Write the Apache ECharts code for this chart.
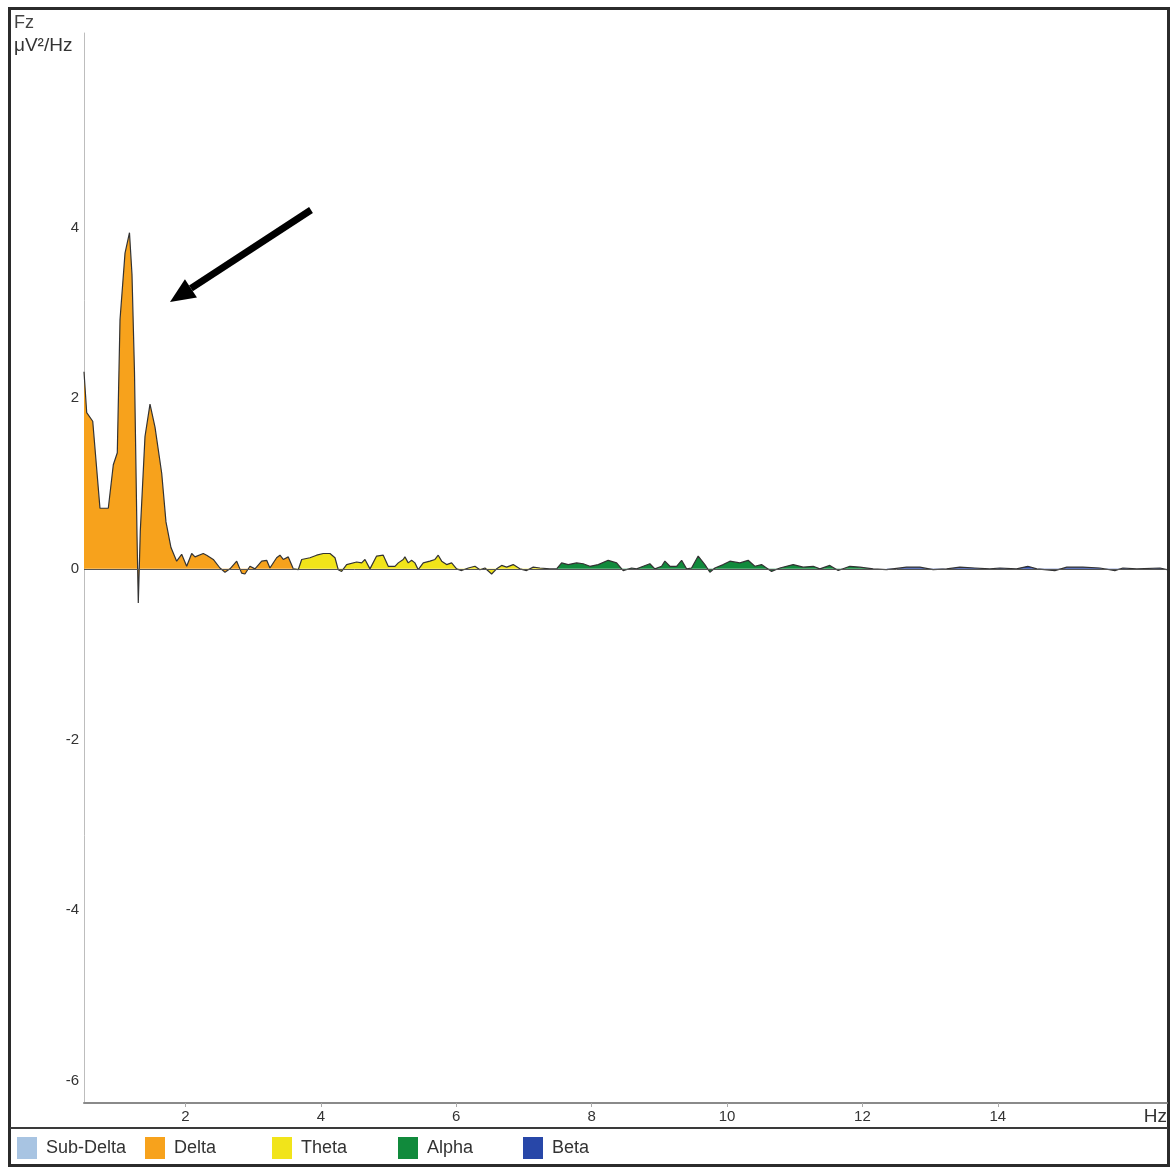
<!DOCTYPE html>
<html>
<head>
<meta charset="utf-8">
<title>Fz power spectrum</title>
<script src="https://cdn.jsdelivr.net/npm/echarts@6/dist/echarts.min.js"></script>
<style>
  html, body { margin: 0; padding: 0; background: #fff; }
  #chart { width: 1171px; height: 1169px; }
</style>
</head>
<body>
<div id="chart"></div>
<script>
// frequency (Hz) and power (µV²/Hz)
const freqHz = [
  0.500, 0.540, 0.629, 0.736, 0.859, 0.933, 0.992, 1.032, 1.106, 1.172,
  1.209, 1.246, 1.283, 1.302, 1.332, 1.401, 1.475, 1.549, 1.648, 1.711,
  1.785, 1.869, 1.943, 2.017, 2.091, 2.140, 2.262, 2.312, 2.410, 2.509,
  2.583, 2.657, 2.756, 2.829, 2.878, 2.952, 3.026, 3.125, 3.199, 3.247,
  3.346, 3.395, 3.444, 3.518, 3.592, 3.665, 3.716, 3.838, 3.937, 4.035,
  4.134, 4.208, 4.256, 4.306, 4.380, 4.528, 4.602, 4.651, 4.725, 4.823,
  4.921, 4.995, 5.094, 5.143, 5.216, 5.241, 5.290, 5.340, 5.389, 5.438,
  5.512, 5.611, 5.685, 5.733, 5.784, 5.857, 5.931, 6.005, 6.079, 6.177,
  6.276, 6.349, 6.423, 6.522, 6.596, 6.670, 6.744, 6.841, 6.940, 7.039,
  7.137, 7.236, 7.383, 7.482, 7.556, 7.654, 7.778, 7.875, 7.974, 8.097,
  8.244, 8.369, 8.466, 8.590, 8.664, 8.762, 8.860, 8.934, 9.033, 9.082,
  9.156, 9.255, 9.329, 9.403, 9.476, 9.574, 9.673, 9.747, 9.821, 9.943,
  10.042, 10.190, 10.312, 10.411, 10.510, 10.584, 10.658, 10.781, 10.977, 11.125,
  11.273, 11.372, 11.519, 11.642, 11.815, 11.962, 12.159, 12.357, 12.652, 12.849,
  13.045, 13.243, 13.440, 13.661, 13.883, 14.031, 14.277, 14.444, 14.577, 14.843,
  15.020, 15.257, 15.508, 15.730, 15.848, 16.055, 16.395, 16.500
];
const power = [
  2.31, 1.83, 1.73, 0.71, 0.71, 1.22, 1.36, 2.92, 3.70, 3.94,
  3.45, 2.30, 0.40, -0.40, 0.45, 1.55, 1.93, 1.66, 1.12, 0.55,
  0.25, 0.09, 0.17, 0.03, 0.18, 0.14, 0.18, 0.16, 0.11, 0.01,
  -0.04, 0.00, 0.09, -0.05, -0.06, 0.03, 0.00, 0.09, 0.10, 0.01,
  0.13, 0.16, 0.11, 0.14, 0.00, -0.01, 0.11, 0.13, 0.16, 0.18,
  0.18, 0.13, -0.01, -0.03, 0.05, 0.08, 0.07, 0.11, 0.00, 0.15,
  0.16, 0.03, 0.03, 0.07, 0.11, 0.14, 0.07, 0.10, 0.07, -0.01,
  0.07, 0.09, 0.11, 0.16, 0.09, 0.05, 0.07, 0.00, -0.02, 0.01,
  0.03, -0.01, 0.01, -0.06, 0.00, 0.04, 0.02, 0.05, 0.00, -0.02,
  0.02, 0.01, 0.00, 0.00, 0.07, 0.05, 0.07, 0.06, 0.03, 0.05,
  0.10, 0.07, -0.02, 0.01, 0.00, 0.03, 0.06, 0.00, 0.03, 0.09,
  0.03, 0.03, 0.10, 0.00, 0.01, 0.15, 0.05, -0.04, 0.01, 0.05,
  0.09, 0.07, 0.10, 0.03, 0.05, 0.01, -0.03, 0.01, 0.05, 0.02,
  0.03, 0.00, 0.04, -0.02, 0.03, 0.02, 0.00, -0.01, 0.02, 0.02,
  -0.01, 0.00, 0.02, 0.01, 0.00, 0.01, 0.00, 0.03, 0.00, -0.02,
  0.02, 0.02, 0.01, -0.02, 0.01, 0.00, 0.01, -0.01
];

const bandNames = ['Sub-Delta', 'Delta', 'Theta', 'Alpha', 'Beta'];
const bandColors = ['#a8c4e2', '#f7a21c', '#f1e41a', '#118a3c', '#2847a8'];
// band limits in Hz (sub-delta has nothing inside the plotted range)
const bandLo = [null, 0.5, 3.592, 7.482, 12.357];
const bandHi = [null, 3.592, 7.482, 12.357, 16.5];

const xTicks = [2, 4, 6, 8, 10, 12, 14];
const yTicks = [-6, -4, -2, 0, 2, 4];

const FONT = '"Liberation Sans", Arial, sans-serif';

const chart = echarts.init(document.getElementById('chart'));

const series = bandNames.map((name, i) => {
  const pts = [];
  if (bandLo[i] !== null) {
    freqHz.forEach((f, k) => {
      if (f >= bandLo[i] && f <= bandHi[i]) pts.push([f, power[k]]);
    });
  }
  return {
    name: name,
    type: 'line',
    data: pts,
    color: bandColors[i],
    symbol: 'none',
    showSymbol: false,
    lineStyle: { color: '#333', width: 1.2 },
    areaStyle: { color: bandColors[i], opacity: 1 },
    emphasis: { disabled: true },
    animation: false
  };
});
// zero line
series[1].markLine = {
  silent: true,
  symbol: ['none', 'none'],
  label: { show: false },
  lineStyle: { color: '#555', width: 1, type: 'solid' },
  data: [{ yAxis: 0 }]
};

// each legend item sits in its own fixed column
const legendLeft = [17, 145, 272, 398, 523];
const legends = bandNames.map((name, i) => ({
  left: legendLeft[i],
  top: 1137,
  padding: 0,
  icon: 'rect',
  itemWidth: 20,
  itemHeight: 22,
  selectedMode: false,
  data: [{ name: name, itemStyle: { color: bandColors[i], borderWidth: 0 } }],
  textStyle: { fontSize: 18, color: '#333', fontFamily: FONT, padding: [0, 0, 0, 4] }
}));

// arrow pointing at the delta peak
const tip = [170, 302], tail = [311, 210];
const dx = tail[0] - tip[0], dy = tail[1] - tip[1];
const len = Math.sqrt(dx * dx + dy * dy);
const ux = dx / len, uy = dy / len;
const headL = 25, headW = 11;
const bx = tip[0] + ux * headL, by = tip[1] + uy * headL;

chart.setOption({
  backgroundColor: '#fff',
  animation: false,
  grid: { left: 84, top: 33, right: 4, bottom: 66, containLabel: false },
  xAxis: {
    type: 'value',
    min: 0.5,
    max: 16.5,
    axisLine: { show: true, onZero: false, lineStyle: { color: '#8a8a8a', width: 2 } },
    axisTick: { show: true, length: 4, customValues: xTicks, lineStyle: { color: '#aaa' } },
    axisLabel: { customValues: xTicks, fontSize: 15, color: '#333', margin: 6, fontFamily: FONT },
    splitLine: { show: false }
  },
  yAxis: {
    type: 'value',
    min: -6.26,
    max: 6.28,
    axisLine: { show: true, onZero: false, lineStyle: { color: '#bdbdbd', width: 1 } },
    axisTick: { show: false },
    axisLabel: { customValues: yTicks, fontSize: 15, color: '#333', margin: 5, fontFamily: FONT },
    splitLine: { show: false }
  },
  legend: legends,
  series: series,
  graphic: [
    { type: 'rect', silent: true, shape: { x: 9.5, y: 8.5, width: 1159, height: 1157 },
      style: { fill: 'none', stroke: '#2b2b2b', lineWidth: 3 } },
    { type: 'line', silent: true, shape: { x1: 10, y1: 1128, x2: 1168, y2: 1128 },
      style: { stroke: '#3a3a3a', lineWidth: 2 } },
    { type: 'text', silent: true, x: 14, y: 23,
      style: { text: 'Fz', fontSize: 18, fontFamily: FONT, fill: '#444', textVerticalAlign: 'middle' } },
    { type: 'text', silent: true, x: 14, y: 46,
      style: { text: 'μV²/Hz', fontSize: 19, fontFamily: FONT, fill: '#333', textVerticalAlign: 'middle' } },
    { type: 'text', silent: true, x: 1167, y: 1117,
      style: { text: 'Hz', fontSize: 19, fontFamily: FONT, fill: '#333', textAlign: 'right', textVerticalAlign: 'middle' } },
    { type: 'line', silent: true, shape: { x1: tail[0], y1: tail[1], x2: bx, y2: by },
      style: { stroke: '#000', lineWidth: 7 } },
    { type: 'polygon', silent: true,
      shape: { points: [tip, [bx - uy * headW, by + ux * headW], [bx + uy * headW, by - ux * headW]] },
      style: { fill: '#000' } }
  ]
});
</script>
</body>
</html>
